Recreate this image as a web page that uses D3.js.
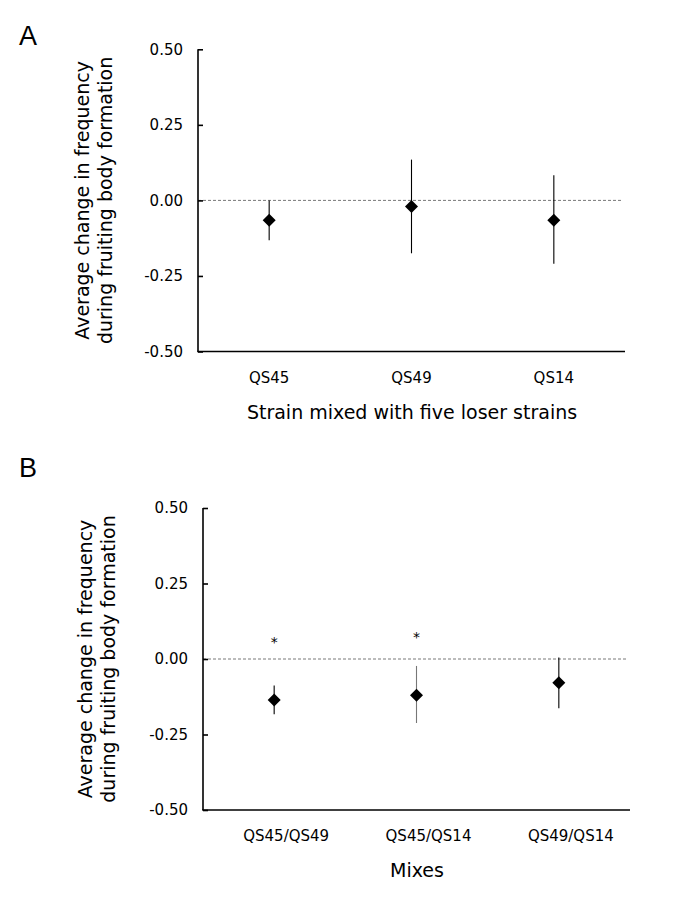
<!DOCTYPE html>
<html><head><meta charset="utf-8">
<script src="https://cdn.jsdelivr.net/npm/d3@7"></script>
<style>body{margin:0;background:#fff}svg{display:block}text{font-family:"DejaVu Sans",Verdana,sans-serif;fill:#000}</style>
</head><body>
<script>
// Panel A data
const catsA = ["QS45", "QS49", "QS14"];
const meanA = [-0.066, -0.020, -0.066];
const lowA  = [-0.132, -0.175, -0.210];
const highA = [0.000, 0.135, 0.083];
// Panel B data
const catsB = ["QS45/QS49", "QS45/QS14", "QS49/QS14"];
const meanB = [-0.136, -0.120, -0.079];
const lowB  = [-0.183, -0.212, -0.163];
const highB = [-0.088, -0.023, 0.005];
const sigB  = ["*", "*", ""];
const sigPosB = [0.070, 0.086, null];
// Axis ticks
const yTicks = [-0.5, -0.25, 0, 0.25, 0.5];
const yTitle = ["Average change in frequency", "during fruiting body formation"];

const W = 685, H = 912;
const svg = d3.select("body").append("svg").attr("width", W).attr("height", H);

function panel(cfg) {
  const g = svg.append("g");
  const x = d3.scaleBand().domain(cfg.cats).range([cfg.x0, cfg.x1]);
  const y = d3.scaleLinear().domain([-0.5, 0.5]).range([cfg.y0, cfg.y1]);
  const cx = c => x(c) + x.bandwidth() / 2;

  // panel letter
  g.append("text").attr("x", 19).attr("y", cfg.letterY)
    .style("font-family", "'Liberation Sans', Arial, sans-serif")
    .style("font-size", "27px").text(cfg.letter);

  // zero dashed line
  g.append("line").attr("x1", cfg.x0).attr("x2", cfg.x1 - 2)
    .attr("y1", y(0)).attr("y2", y(0))
    .attr("stroke", "#555").attr("stroke-width", 0.8).attr("stroke-dasharray", "3,2");

  // y axis
  const ya = d3.axisLeft(y).tickValues(yTicks).tickSize(-5).tickPadding(15)
    .tickFormat(d3.format(".2f"));
  const yg = g.append("g").attr("transform", `translate(${cfg.x0},0)`).call(ya);
  yg.select(".domain").attr("stroke-width", 1.6).attr("d", `M0,${cfg.y1}V${cfg.y0}`);
  yg.selectAll(".tick line").attr("stroke-width", 1.6);
  yg.selectAll(".tick text").style("font-size", "15px")
    .attr("fill", "#000")
    .text(d => d3.format(".2f")(d).replace("−", "-"));

  // x axis line
  g.append("line").attr("x1", cfg.x0 - 0.8).attr("x2", cfg.x1)
    .attr("y1", cfg.y0).attr("y2", cfg.y0).attr("stroke", "#000").attr("stroke-width", 1.6);

  // x labels
  g.selectAll(".xl").data(cfg.cats).join("text")
    .attr("x", d => cx(d) + cfg.labOff).attr("y", cfg.y0 + 26)
    .attr("text-anchor", "middle").attr("dominant-baseline", "central")
    .style("font-size", "15px").text(d => d);

  // x title
  g.append("text").attr("x", cfg.titleX).attr("y", cfg.titleY)
    .attr("text-anchor", "middle").attr("dominant-baseline", "central")
    .style("font-size", "19px").text(cfg.xTitle);

  // y title
  const ym = (cfg.y0 + cfg.y1) / 2;
  yTitle.forEach((t, i) => {
    g.append("text").attr("transform", `translate(${cfg.yTitleX + i * 23},${ym}) rotate(-90)`)
      .attr("text-anchor", "middle").attr("dominant-baseline", "central")
      .style("font-size", "19px").text(t);
  });

  // error bars
  g.selectAll(".eb").data(cfg.cats).join("line")
    .attr("x1", d => cx(d)).attr("x2", d => cx(d))
    .attr("y1", (d, i) => y(cfg.high[i])).attr("y2", (d, i) => y(cfg.low[i]))
    .attr("stroke", (d, i) => cfg.ebColor ? cfg.ebColor[i] : "#000").attr("stroke-width", 1.1);

  // diamonds
  g.selectAll(".pt").data(cfg.cats).join("path")
    .attr("d", (d, i) => {
      const px = cx(d), py = y(cfg.mean[i]), r = 6.5;
      return `M${px},${py - r}L${px + r},${py}L${px},${py + r}L${px - r},${py}Z`;
    })
    .attr("fill", "#000");

  // significance marks
  if (cfg.sig) {
    g.selectAll(".sg").data(cfg.cats).join("text")
      .attr("x", d => cx(d)).attr("y", (d, i) => cfg.sigPos[i] == null ? 0 : y(cfg.sigPos[i]) + 4)
      .attr("text-anchor", "middle").attr("dominant-baseline", "central")
      .style("font-size", "14px").text((d, i) => cfg.sig[i]);
  }
}

panel({
  letter: "A", letterY: 45, cats: catsA, mean: meanA, low: lowA, high: highA,
  x0: 198, x1: 625, y0: 351.5, y1: 49.3, labOff: 0,
  xTitle: "Strain mixed with five loser strains", titleX: 412, titleY: 412, yTitleX: 82
});
panel({
  letter: "B", letterY: 477, cats: catsB, mean: meanB, low: lowB, high: highB,
  sig: sigB, sigPos: sigPosB, ebColor: ["#000", "#777", "#000"],
  x0: 203, x1: 630, y0: 810, y1: 508, labOff: 12,
  xTitle: "Mixes", titleX: 417, titleY: 870, yTitleX: 85
});
</script>
</body></html>
